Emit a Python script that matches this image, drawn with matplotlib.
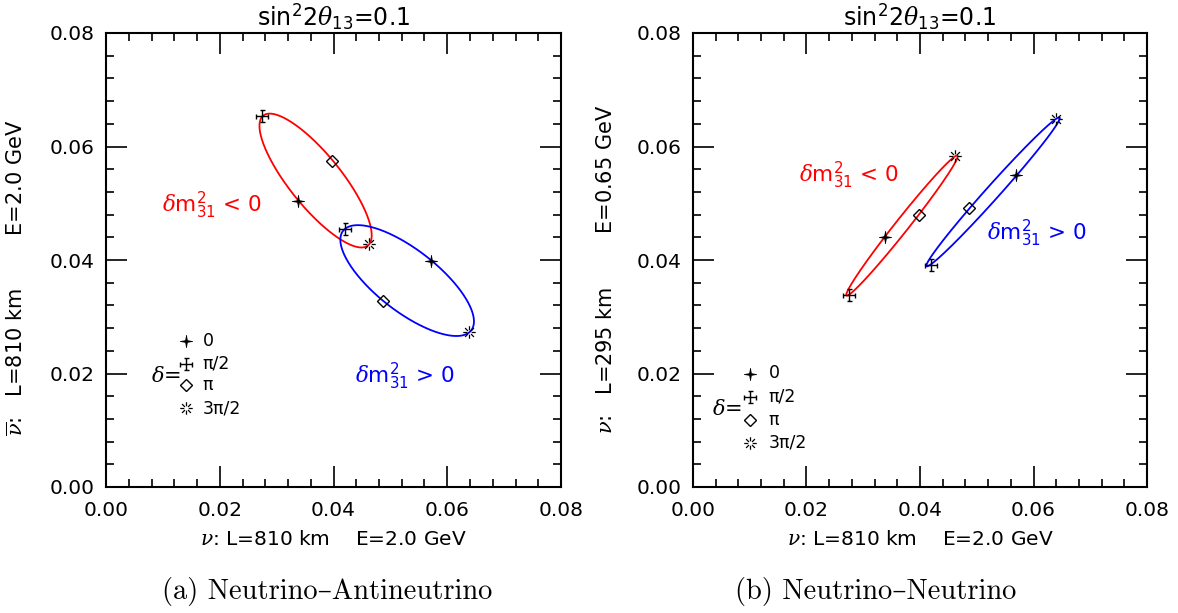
import numpy as np
import matplotlib
matplotlib.use("Agg")
import matplotlib.pyplot as plt
from matplotlib.path import Path
from matplotlib.ticker import MultipleLocator, FormatStrFormatter

plt.rcParams['font.family'] = ['DejaVu Sans']
plt.rcParams['mathtext.fontset'] = 'custom'
plt.rcParams['mathtext.rm'] = 'DejaVu Sans'
plt.rcParams['mathtext.it'] = 'DejaVu Serif:italic'

# ---------------- data (order: delta = 0, pi/2, pi, 3pi/2) ----------------
delta_labels = ['0', '\u03c0/2', '\u03c0', '3\u03c0/2']

# Panel (a): x = nu (L=810 km, E=2.0 GeV), y = anti-nu (L=810 km, E=2.0 GeV)
a_pos_x = [0.0572, 0.0420, 0.0487, 0.0639]   # dm31^2 > 0
a_pos_y = [0.0399, 0.0455, 0.0328, 0.0273]
a_neg_x = [0.0338, 0.0275, 0.0398, 0.0463]   # dm31^2 < 0
a_neg_y = [0.0504, 0.0653, 0.0575, 0.0428]

# Panel (b): x = nu (L=810 km, E=2.0 GeV), y = nu (L=295 km, E=0.65 GeV)
b_pos_x = [0.0570, 0.0419, 0.0487, 0.0639]
b_pos_y = [0.0549, 0.0392, 0.0491, 0.0648]
b_neg_x = [0.0338, 0.0275, 0.0398, 0.0462]
b_neg_y = [0.0441, 0.0339, 0.0480, 0.0583]

# ---------------- markers ----------------
def star4(inner=0.2):
    verts = []
    for k in range(8):
        ang = np.pi / 2 + k * np.pi / 4
        r = 1.0 if k % 2 == 0 else inner
        verts.append((r * np.cos(ang), r * np.sin(ang)))
    verts.append(verts[0])
    codes = [Path.MOVETO] + [Path.LINETO] * 7 + [Path.CLOSEPOLY]
    return Path(verts, codes)

def capped_plus(c=0.45):
    segs = [((-1, 0), (1, 0)), ((0, -1), (0, 1)),
            ((-c, 1), (c, 1)), ((-c, -1), (c, -1)),
            ((-1, -c), (-1, c)), ((1, -c), (1, c))]
    verts, codes = [], []
    for a, b in segs:
        verts += [a, b]
        codes += [Path.MOVETO, Path.LINETO]
    return Path(verts, codes)

def broken_asterisk(r0=0.35):
    verts, codes = [], []
    for k in range(8):
        ang = k * np.pi / 4
        verts += [(r0 * np.cos(ang), r0 * np.sin(ang)), (np.cos(ang), np.sin(ang))]
        codes += [Path.MOVETO, Path.LINETO]
    return Path(verts, codes)

marker_styles = [
    dict(marker=star4(), markersize=9, color='black', markeredgewidth=0.5),
    dict(marker=capped_plus(), markersize=8, color='black', markeredgewidth=1.0, fillstyle='none'),
    dict(marker='D', markersize=6, markerfacecolor='none', markeredgecolor='black', markeredgewidth=1.0),
    dict(marker=broken_asterisk(), markersize=9, color='black', markeredgewidth=0.9, fillstyle='none'),
]

def ellipse_through(xs, ys, n=400):
    # CP trajectory: P(d) = A + B cos d + C sin d, fixed by the four delta points
    xs, ys = np.asarray(xs), np.asarray(ys)
    t = np.linspace(0, 2 * np.pi, n)
    Ax, Ay = xs.mean(), ys.mean()
    Bx, By = (xs[0] - xs[2]) / 2, (ys[0] - ys[2]) / 2
    Cx, Cy = (xs[1] - xs[3]) / 2, (ys[1] - ys[3]) / 2
    return Ax + Bx * np.cos(t) + Cx * np.sin(t), Ay + By * np.cos(t) + Cy * np.sin(t)

fig = plt.figure(figsize=(11.78, 6.13), dpi=100)
ax_a = fig.add_axes([106 / 1178, 126 / 613, 455 / 1178, 454 / 613])
ax_b = fig.add_axes([693 / 1178, 126 / 613, 454 / 1178, 454 / 613])

panels = [
    (ax_a, a_pos_x, a_pos_y, a_neg_x, a_neg_y,
     r'$\overline{\nu}$:   L=810 km        E=2.0 GeV', (-0.174, 0.46),
     dict(neg=(0.122, 0.621), pos=(0.547, 0.2445),
          mk_x=0.175, lab_x=0.212, rows=[0.322, 0.272, 0.224, 0.173], dlt=(0.165, 0.2445))),
    (ax_b, b_pos_x, b_pos_y, b_neg_x, b_neg_y,
     r'$\nu$:   L=295 km        E=0.65 GeV', (-0.17, 0.48),
     dict(neg=(0.234, 0.686), pos=(0.648, 0.5575),
          mk_x=0.125, lab_x=0.167, rows=[0.25, 0.1985, 0.147, 0.097], dlt=(0.108, 0.171))),
]

for ax, px, py, nx, ny, ylab, ylab_xy, lay in panels:
    for xs, ys, col in [(nx, ny, 'red'), (px, py, 'blue')]:
        ex, ey = ellipse_through(xs, ys)
        ax.plot(ex, ey, color=col, lw=1.3, zorder=2)
        for i, st in enumerate(marker_styles):
            ax.plot([xs[i]], [ys[i]], linestyle='none', zorder=3, **st)

    ax.set_xlim(0, 0.08)
    ax.set_ylim(0, 0.08)
    ax.xaxis.set_major_locator(MultipleLocator(0.02))
    ax.yaxis.set_major_locator(MultipleLocator(0.02))
    ax.xaxis.set_minor_locator(MultipleLocator(0.004))
    ax.yaxis.set_minor_locator(MultipleLocator(0.004))
    ax.xaxis.set_major_formatter(FormatStrFormatter('%.2f'))
    ax.yaxis.set_major_formatter(FormatStrFormatter('%.2f'))
    ax.tick_params(which='both', direction='in', top=True, right=True,
                   width=1.2, labelsize=14.5)
    ax.tick_params(axis='x', which='both', pad=10)
    ax.tick_params(axis='y', which='both', pad=8)
    ax.tick_params(which='major', length=15)
    ax.tick_params(which='minor', length=5.5)
    for s in ax.spines.values():
        s.set_linewidth(1.5)

    ax.set_title(r'sin$^2$2$\theta_{13}$=0.1', fontsize=17, pad=5)
    ax.set_xlabel(r'$\nu$: L=810 km    E=2.0 GeV', fontsize=14.5, labelpad=7)
    ax.set_ylabel(ylab, fontsize=15)
    ax.yaxis.set_label_coords(*ylab_xy)

    ax.text(*lay['neg'], r'$\delta$m$^2_{31}$ < 0', color='red', fontsize=15.5,
            transform=ax.transAxes, ha='left', va='center')
    ax.text(*lay['pos'], r'$\delta$m$^2_{31}$ > 0', color='blue', fontsize=15.5,
            transform=ax.transAxes, ha='left', va='center')

    for lbl, st, ry in zip(delta_labels, marker_styles, lay['rows']):
        ax.plot([lay['mk_x']], [ry], transform=ax.transAxes, linestyle='none',
                clip_on=False, **st)
        ax.text(lay['lab_x'], ry, lbl, transform=ax.transAxes, fontsize=12.5,
                ha='left', va='center')
    ax.text(*lay['dlt'], r'$\delta$=', transform=ax.transAxes, fontsize=15,
            ha='right', va='center')

cap_font = ['cmr10', 'DejaVu Serif']
fig.text(327 / 1178, 1 - 592 / 613, '(a) Neutrino\u2013Antineutrino', family=cap_font,
         fontsize=20.5, ha='center', va='center')
fig.text(876 / 1178, 1 - 592 / 613, '(b) Neutrino\u2013Neutrino', family=cap_font,
         fontsize=20.5, ha='center', va='center')

fig.savefig('out.png', dpi=100)
